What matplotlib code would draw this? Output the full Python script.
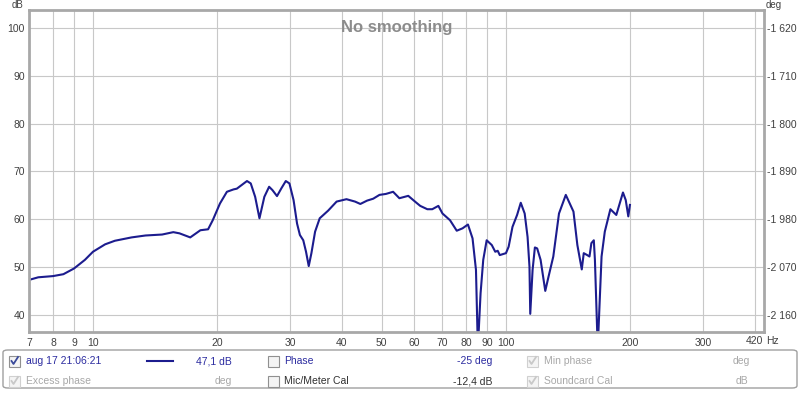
import matplotlib
matplotlib.use("Agg")
import matplotlib.pyplot as plt
from matplotlib.patches import FancyBboxPatch, Rectangle
from matplotlib.lines import Line2D
from matplotlib.ticker import FixedLocator, NullLocator, FuncFormatter

plt.rcParams['font.family'] = ['Liberation Sans', 'DejaVu Sans']

freq_hz = [7.0, 7.37, 8.0, 8.48, 9.0, 9.56, 10.0, 10.7, 11.3, 12.4, 13.4, 14.7,
           15.65, 16.2, 17.2, 18.2, 19.0, 19.5, 20.3, 21.1, 21.9, 22.3, 23.6,
           24.1, 24.7, 25.3, 26.0, 26.7, 27.2, 27.9, 28.6, 29.3, 29.9, 30.6,
           31.2, 31.7, 32.3, 32.8, 33.3, 33.8, 34.5, 35.4, 37.1, 38.9, 41.1,
           43.1, 44.4, 46.1, 47.7, 49.4, 51.2, 53.3, 55.2, 58.0, 60.7, 62.0,
           64.5, 66.3, 68.6, 70.2, 73.2, 76.0, 78.5, 80.9, 83.0, 84.6, 85.5,
           86.8, 88.1, 89.8, 92.4, 94.2, 95.5, 96.6, 100.0, 101.5, 103.7,
           106.4, 108.6, 111.0, 112.8, 114.0, 114.5, 116.0, 117.5, 119.0,
           121.3, 124.5, 126.8, 130.2, 134.4, 139.6, 145.7, 148.9, 152.6,
           154.3, 157.3, 159.3, 161.0, 163.2, 164.2, 166.8, 170.4, 173.5,
           179.0, 185.0, 192.0, 195.0, 197.8, 199.6]
spl_db = [47.3, 47.85, 48.1, 48.5, 49.7, 51.5, 53.2, 54.75, 55.5, 56.2, 56.6, 56.8,
          57.3, 57.05, 56.2, 57.7, 57.9, 59.8, 63.3, 65.75, 66.25, 66.4, 68.0,
          67.5, 64.7, 60.2, 64.7, 66.8, 66.1, 64.85, 66.5, 68.0, 67.5, 64.0,
          59.1, 56.7, 55.6, 53.2, 50.2, 52.9, 57.4, 60.2, 61.8, 63.7, 64.2,
          63.7, 63.2, 63.9, 64.3, 65.1, 65.3, 65.75, 64.4, 64.9, 63.45, 62.8,
          62.1, 62.1, 62.8, 61.2, 59.8, 57.6, 58.1, 58.9, 56.0, 49.4, 33.0,
          44.5, 51.5, 55.6, 54.6, 53.2, 53.4, 52.5, 52.9, 54.25, 58.4,
          60.9, 63.45, 61.2, 56.3, 50.1, 40.2, 49.4, 54.1, 53.9,
          51.5, 45.0, 48.0, 52.2, 61.2, 65.1, 61.6, 54.6, 49.5,
          52.9, 52.5, 52.2, 55.0, 55.6, 51.5, 33.0, 52.2, 57.4,
          62.1, 60.9, 65.6, 64.0, 60.6, 63.0]

x_ticks = [7, 8, 9, 10, 20, 30, 40, 50, 60, 70, 80, 90, 100, 200, 300]
x_tick_labels = ['7', '8', '9', '10', '20', '30', '40', '50', '60', '70', '80',
                 '90', '100', '200', '300']
x_extra_grid = [400]
db_ticks = [40, 50, 60, 70, 80, 90, 100]
deg_ticks = [-1620, -1710, -1800, -1890, -1980, -2070, -2160]

W, H = 800, 393
fig = plt.figure(figsize=(W / 100, H / 100), dpi=100)
fig.patch.set_facecolor('white')

L, R, T, B = 29, 764, 10, 332
ax = fig.add_axes([L / W, 1 - B / H, (R - L) / W, (B - T) / H])
ax.set_xscale('log')
ax.set_xlim(7, 421.5)
ylo, yhi = 36.4, 103.8
ax.set_ylim(ylo, yhi)

ax.plot(freq_hz, spl_db, color='#1c1c8e', lw=1.5, solid_joinstyle='round')

ax.xaxis.set_major_locator(FixedLocator(x_ticks))
ax.xaxis.set_minor_locator(FixedLocator(x_extra_grid))
ax.set_xticklabels(x_tick_labels)
ax.set_yticks(db_ticks)
ax.grid(True, which='both', color='#c8c8c8', lw=0.8)
ax.set_axisbelow(True)
ax.tick_params(which='both', length=0, labelsize=7.5, colors='#404040')
ax.tick_params(axis='x', pad=4)
ax.tick_params(axis='y', pad=3)
for s in ax.spines.values():
    s.set_color('#a8a8a8')
    s.set_linewidth(2)

ax2 = ax.twinx()
ax2.set_ylim(-1620 + (ylo - 100) * 9, -1620 + (yhi - 100) * 9)
ax2.set_yticks(deg_ticks)
ax2.yaxis.set_major_formatter(FuncFormatter(lambda v, p: f"{v:,.0f}".replace(',', ' ')))
ax2.tick_params(length=0, labelsize=7.5, colors='#404040', pad=2)
for s in ax2.spines.values():
    s.set_visible(False)

ax.text(0.5, 0.97, 'No smoothing', transform=ax.transAxes, ha='center', va='top',
        fontsize=12, fontweight='bold', color='#8c8c8c')
fig.text(18 / W, 1 - 5 / H, 'dB', fontsize=7, color='#404040', ha='center', va='center')
fig.text(774 / W, 1 - 5 / H, 'deg', fontsize=7, color='#404040', ha='center', va='center')
fig.text(763 / W, 1 - 341 / H, '420', fontsize=7.5, color='#404040', ha='right', va='center')
fig.text(766 / W, 1 - 341 / H, 'Hz', fontsize=7.5, color='#404040', ha='left', va='center')

# legend panel
def fx(x):
    return x / W

def fy(y):
    return 1 - y / H

fig.patches.append(FancyBboxPatch((fx(3), fy(388)), fx(794), 38 / H,
                                  boxstyle='round,pad=0,rounding_size=0.006',
                                  transform=fig.transFigure, facecolor='white',
                                  edgecolor='#a0a0a0', lw=1))

def checkbox(x, y, checked, enabled, mark_color):
    s = 11
    fig.patches.append(Rectangle((fx(x), fy(y + s / 2)), s / W, s / H,
                                 transform=fig.transFigure, facecolor='#f4f4f4',
                                 edgecolor='#909090' if enabled else '#d0d0d0', lw=0.8))
    if checked:
        xs = [x + 2.5, x + 4.5, x + 9]
        ys = [y, y + 3, y - 4]
        fig.lines.append(Line2D([fx(v) for v in xs], [fy(v) for v in ys],
                                transform=fig.transFigure, color=mark_color, lw=1.3))

blue, grey, dark = '#2c2ca0', '#a8a8a8', '#303030'
r1, r2 = 361, 381
fs = 7.5
checkbox(9, r1, True, True, '#3a4a9a')
fig.text(fx(26), fy(r1), 'aug 17 21:06:21', color=blue, fontsize=fs, va='center')
fig.lines.append(Line2D([fx(147), fx(173)], [fy(r1), fy(r1)], transform=fig.transFigure,
                        color='#1c1c8e', lw=1.5))
fig.text(fx(232), fy(r1), '47,1 dB', color=blue, fontsize=fs, va='center', ha='right')
checkbox(268, r1, False, True, blue)
fig.text(fx(284), fy(r1), 'Phase', color=blue, fontsize=fs, va='center')
fig.text(fx(492), fy(r1), '-25 deg', color=blue, fontsize=fs, va='center', ha='right')
checkbox(527, r1, True, False, '#c8c8c8')
fig.text(fx(544), fy(r1), 'Min phase', color=grey, fontsize=fs, va='center')
fig.text(fx(750), fy(r1), 'deg', color=grey, fontsize=fs, va='center', ha='right')

checkbox(9, r2, True, False, '#c8c8c8')
fig.text(fx(26), fy(r2), 'Excess phase', color=grey, fontsize=fs, va='center')
fig.text(fx(232), fy(r2), 'deg', color=grey, fontsize=fs, va='center', ha='right')
checkbox(268, r2, False, True, dark)
fig.text(fx(284), fy(r2), 'Mic/Meter Cal', color=dark, fontsize=fs, va='center')
fig.text(fx(492), fy(r2), '-12,4 dB', color=dark, fontsize=fs, va='center', ha='right')
checkbox(527, r2, True, False, '#c8c8c8')
fig.text(fx(544), fy(r2), 'Soundcard Cal', color=grey, fontsize=fs, va='center')
fig.text(fx(748), fy(r2), 'dB', color=grey, fontsize=fs, va='center', ha='right')

fig.savefig('out.png', dpi=100)
